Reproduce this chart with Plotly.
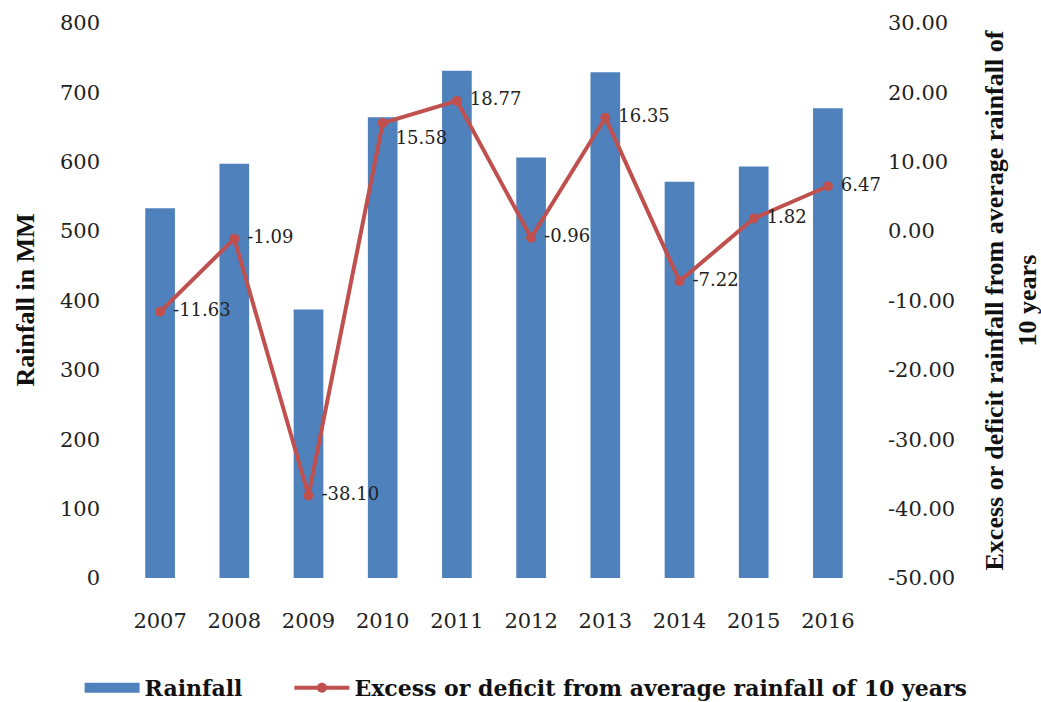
import plotly.graph_objects as go

# Annual rainfall (mm) and deviation from the 10-year average (%)
years = ["2007", "2008", "2009", "2010", "2011", "2012", "2013", "2014", "2015", "2016"]
rainfall_mm = [533, 597, 387, 664, 731, 606, 729, 571, 593, 677]
deviation = [-11.63, -1.09, -38.10, 15.58, 18.77, -0.96, 16.35, -7.22, 1.82, 6.47]

left_ticks = [0, 100, 200, 300, 400, 500, 600, 700, 800]
right_ticks = [-50, -40, -30, -20, -10, 0, 10, 20, 30]
right_tick_text = [f"{v:.2f}" for v in right_ticks]

label_positions = ["bottom right" if y == "2010" else "middle right" for y in years]

BAR_BLUE = "#4F81BD"
LINE_RED = "#C0504D"
TICK_FONT = dict(family="DejaVu Serif", size=21, color="#222222")
TITLE_FONT = dict(family="Liberation Serif", size=26, color="#111111")
NBSP = "\u00a0"

fig = go.Figure()

fig.add_trace(go.Bar(
    x=years, y=rainfall_mm, name="Rainfall",
    marker=dict(color=BAR_BLUE, line=dict(width=0)),
    showlegend=False,
))

# Wide legend swatch for the rainfall bars
fig.add_trace(go.Scatter(
    x=[None], y=[None], mode="lines", name="<b>Rainfall</b>" + NBSP * 6,
    line=dict(color=BAR_BLUE, width=14), legendrank=1,
))

fig.add_trace(go.Scatter(
    x=years, y=deviation, yaxis="y2",
    name="<b>Excess or deficit from average rainfall of 10 years</b>",
    mode="lines+markers+text",
    line=dict(color=LINE_RED, width=4),
    marker=dict(color=LINE_RED, size=10),
    text=[NBSP + f"{v:.2f}" for v in deviation],
    textposition=label_positions,
    textfont=dict(family="DejaVu Serif", size=18, color="#222222"),
    cliponaxis=False,
    legendrank=2,
))

fig.update_layout(
    width=1041, height=702,
    margin=dict(l=123, r=176, t=23, b=124, autoexpand=False),
    paper_bgcolor="white", plot_bgcolor="white",
    bargap=0.6,
    xaxis=dict(
        type="category", range=[-0.5, 9.5], showgrid=False, showline=False,
        zeroline=False, ticks="", tickfont=TICK_FONT, ticklabelstandoff=28,
    ),
    yaxis=dict(
        range=[0, 800], tickvals=left_ticks, showgrid=False, showline=False,
        zeroline=False, ticks="", tickfont=TICK_FONT, ticklabelstandoff=22,
    ),
    yaxis2=dict(
        overlaying="y", side="right", range=[-50, 30],
        tickvals=right_ticks, ticktext=right_tick_text,
        showgrid=False, showline=False, zeroline=False, ticks="",
        tickfont=TICK_FONT, ticklabelstandoff=22,
    ),
    legend=dict(
        orientation="h", xref="paper", yref="paper",
        x=1.145, xanchor="right", y=-0.198, yanchor="middle",
        font=dict(family="DejaVu Serif", size=22, color="#111111"),
        itemwidth=55, traceorder="normal",
    ),
    annotations=[
        dict(text="<b>Rainfall in MM</b>", xref="paper", yref="paper",
             x=0, y=0.5, xshift=-98, textangle=-90, showarrow=False,
             font=TITLE_FONT, xanchor="center", yanchor="middle"),
        dict(text="<b>Excess or deficit rainfall from average rainfall of<br>10 years</b>",
             xref="paper", yref="paper", x=1, y=0.5, xshift=146,
             textangle=-90, showarrow=False, font=TITLE_FONT,
             xanchor="center", yanchor="middle"),
    ],
)

fig.write_html("out.html")
